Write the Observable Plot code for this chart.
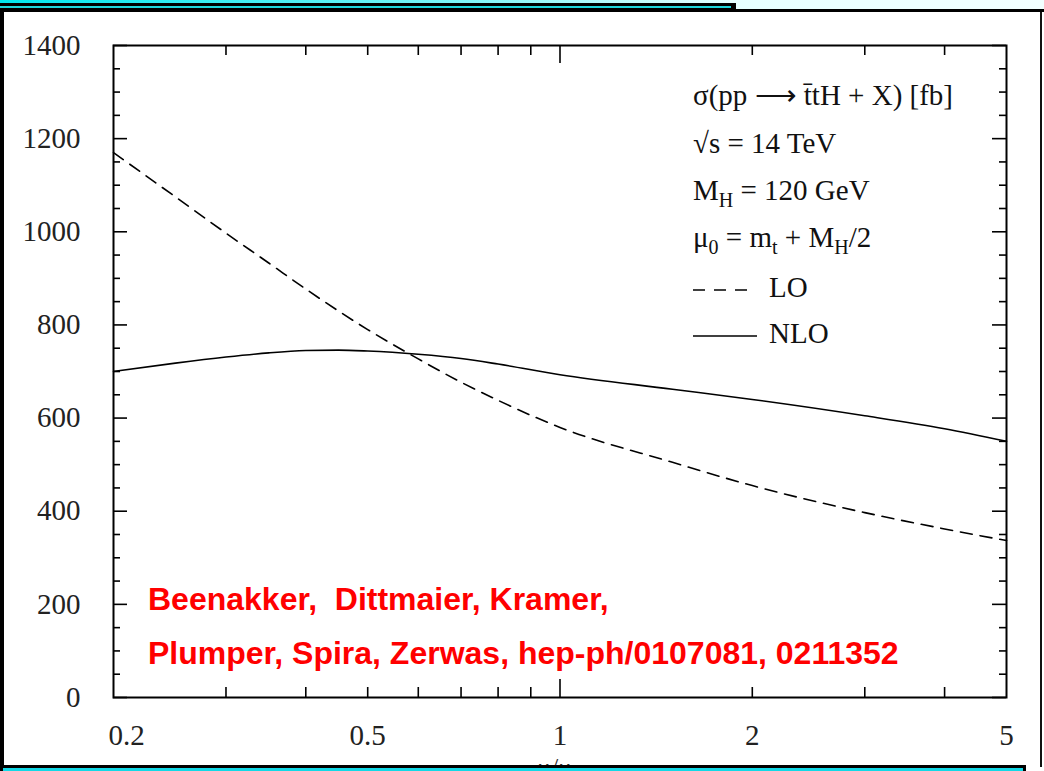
<!DOCTYPE html>
<html>
<head>
<meta charset="utf-8">
<script src="https://cdn.jsdelivr.net/npm/d3@7"></script>
<script src="https://cdn.jsdelivr.net/npm/@observablehq/plot@0.6"></script>
<style>
  html, body { margin: 0; padding: 0; background: #fff; }
  #page { position: relative; width: 1044px; height: 771px; overflow: hidden; background: #fff; }
  #page svg { position: absolute; left: 0; top: 0; }
  .deco { position: absolute; }
</style>
</head>
<body>
<div id="page"></div>
<script>
// Renormalisation/factorisation scale ratio μ/μ0 (log axis)
const scaleLO = [0.2, 0.25, 0.3, 0.35, 0.4, 0.5, 0.6, 0.7, 0.8, 0.9, 1, 1.5, 2, 3, 4, 5];
const sigmaLO = [1170, 1075, 997, 933, 877, 790, 727, 677, 638, 606, 580, 505, 455, 397, 362, 337];

const scaleNLO = [0.2, 0.25, 0.3, 0.35, 0.4, 0.45, 0.5, 0.6, 0.7, 0.8, 1, 1.5, 2, 3, 4, 5];
const sigmaNLO = [700, 718, 731, 740, 745, 746, 744, 737, 728, 716, 693, 662, 640, 605, 577, 550];

// Axis ticks
const xTickLabels = [0.2, 0.5, 1, 2, 5];
const xMajorTicks = [1];
const xMinorTicks = [0.3, 0.4, 0.5, 0.6, 0.7, 0.8, 0.9, 2, 3, 4];
const yMajorTicks = [0, 200, 400, 600, 800, 1000, 1200, 1400];
const yMinorTicks = [50, 100, 150, 250, 300, 350, 450, 500, 550, 650, 700, 750,
                     850, 900, 950, 1050, 1100, 1150, 1250, 1300, 1350];

// Annotation texts
const titleLines = ["σ(pp ⟶ t\u0304tH + X) [fb]", "√s = 14 TeV"];
const seriesNames = ["LO", "NLO"];
const citation = ["Beenakker,  Dittmaier, Kramer,",
                  "Plumper, Spira, Zerwas, hep-ph/0107081, 0211352"];

const lo = scaleLO.map((x, i) => ({x, y: sigmaLO[i]}));
const nlo = scaleNLO.map((x, i) => ({x, y: sigmaNLO[i]}));

const W = 1044, H = 771;
const mL = 113, mR = 38, mT = 45, mB = 74;
const fw = W - mL - mR, fh = H - mT - mB;
const serif = "'Liberation Serif', 'Times New Roman', serif";

const chart = Plot.plot({
  width: W, height: H,
  marginLeft: mL, marginRight: mR, marginTop: mT, marginBottom: mB,
  x: {type: "log", domain: [0.2, 5], axis: null},
  y: {domain: [0, 1400], axis: null},
  style: {background: "transparent", fontFamily: serif, color: "black", overflow: "visible"},
  marks: [
    // inward ticks on all four sides
    Plot.tickX(xMinorTicks, {x: d => d, insetBottom: fh - 10, stroke: "black", strokeWidth: 1.6}),
    Plot.tickX(xMinorTicks, {x: d => d, insetTop: fh - 10, stroke: "black", strokeWidth: 1.6}),
    Plot.tickX(xMajorTicks, {x: d => d, insetBottom: fh - 18, stroke: "black", strokeWidth: 1.6}),
    Plot.tickX(xMajorTicks, {x: d => d, insetTop: fh - 18, stroke: "black", strokeWidth: 1.6}),
    Plot.tickY(yMinorTicks, {y: d => d, insetRight: fw - 7, stroke: "black", strokeWidth: 1.6}),
    Plot.tickY(yMinorTicks, {y: d => d, insetLeft: fw - 7, stroke: "black", strokeWidth: 1.6}),
    Plot.tickY(yMajorTicks, {y: d => d, insetRight: fw - 14, stroke: "black", strokeWidth: 1.6}),
    Plot.tickY(yMajorTicks, {y: d => d, insetLeft: fw - 14, stroke: "black", strokeWidth: 1.6}),
    Plot.frame({stroke: "black", strokeWidth: 2}),
    // tick labels
    Plot.text(yMajorTicks, {y: d => d, text: d => String(d), frameAnchor: "left", dx: -33,
      textAnchor: "end", lineAnchor: "middle", fontSize: 29, fontFamily: serif, fill: "#222"}),
    Plot.text(xTickLabels.slice(0, 1), {x: d => d, text: d => String(d), frameAnchor: "bottom",
      dx: -5, dy: 27, textAnchor: "start", lineAnchor: "top", fontSize: 29, fontFamily: serif, fill: "#222"}),
    Plot.text(xTickLabels.slice(1), {x: d => d, text: d => String(d), frameAnchor: "bottom",
      dy: 27, lineAnchor: "top", fontSize: 29, fontFamily: serif, fill: "#222"}),
    // cross sections
    Plot.line(nlo, {x: "x", y: "y", curve: "monotone-x", stroke: "black", strokeWidth: 1.6}),
    Plot.line(lo, {x: "x", y: "y", curve: "monotone-x", stroke: "black", strokeWidth: 1.6,
      strokeDasharray: "12,8"})
  ]
});

const page = document.getElementById("page");
page.appendChild(chart);

const svg = d3.select(chart);

// legend block
const lg = svg.append("g").attr("font-family", serif).attr("font-size", 29)
  .attr("fill", "#111").attr("text-anchor", "start");
const lx = 693;
function richLine(y, parts) {
  const t = lg.append("text").attr("x", lx).attr("y", y);
  let shifted = false;
  parts.forEach(p => {
    const isSub = typeof p === "object";
    const span = t.append("tspan").text(isSub ? p.sub : p);
    if (isSub && !shifted) { span.attr("dy", 7).attr("font-size", 20); shifted = true; }
    else if (isSub) { span.attr("font-size", 20); }
    else if (shifted) { span.attr("dy", -7); shifted = false; }
  });
  return t;
}
richLine(105, [titleLines[0]]);
richLine(153, [titleLines[1]]);
richLine(200, ["M", {sub: "H"}, " = 120 GeV"]);
richLine(247, ["μ", {sub: "0"}, " = m", {sub: "t"}, " + M", {sub: "H"}, "/2"]);
lg.append("line").attr("x1", lx).attr("x2", 747).attr("y1", 290).attr("y2", 290)
  .attr("stroke", "black").attr("stroke-width", 1.6).attr("stroke-dasharray", "12,9");
lg.append("text").attr("x", 769).attr("y", 297).text(seriesNames[0]);
lg.append("line").attr("x1", lx).attr("x2", 757).attr("y1", 336).attr("y2", 336)
  .attr("stroke", "black").attr("stroke-width", 1.6);
lg.append("text").attr("x", 769).attr("y", 343).text(seriesNames[1]);

// reference in red
const cg = svg.append("g").attr("font-family", "'Liberation Sans', Arial, sans-serif")
  .attr("font-weight", "bold").attr("font-size", 32).attr("fill", "#ff0000")
  .attr("text-anchor", "start");
cg.append("text").attr("x", 148).attr("y", 610).text(citation[0]);
cg.append("text").attr("x", 148).attr("y", 664).text(citation[1]);

// x-axis title, mostly hidden below the slide border
const xt = svg.append("text").attr("x", 559).attr("y", 776).attr("text-anchor", "middle")
  .attr("font-family", serif).attr("font-size", 26).attr("fill", "#333");
xt.append("tspan").text("μ/μ");
xt.append("tspan").attr("dy", 6).attr("font-size", 18).text("0");

// slide border decoration
function deco(css) {
  const d = document.createElement("div");
  d.className = "deco";
  Object.assign(d.style, css);
  page.appendChild(d);
}
deco({left: "0px", top: "0px", width: "1044px", height: "9px",
      background: "linear-gradient(to right, #00e6ee 0%, #7ff4f7 45%, #e6ffff 70%, #f2ffff 100%)"});
deco({left: "0px", top: "3px", width: "736px", height: "9px", background: "#000"});
deco({left: "0px", top: "6px", width: "731px", height: "2px", background: "#1fd6dc"});
deco({left: "736px", top: "9px", width: "308px", height: "3px", background: "#000"});
deco({left: "0px", top: "12px", width: "4px", height: "755px", background: "#000"});
deco({left: "1040px", top: "12px", width: "2px", height: "755px", background: "#111"});
deco({left: "0px", top: "765px", width: "1026px", height: "8px", background: "#000"});
deco({left: "3px", top: "768px", width: "1020px", height: "5px", background: "#12d8e6"});
</script>
</body>
</html>
